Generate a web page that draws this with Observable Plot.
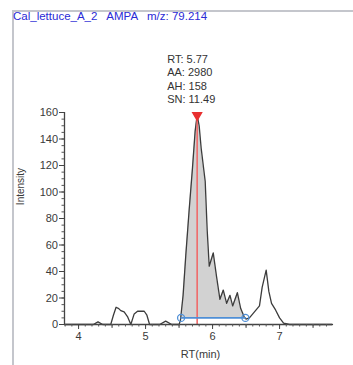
<!DOCTYPE html>
<html>
<head>
<meta charset="utf-8">
<script src="https://cdn.jsdelivr.net/npm/d3@7"></script>
<script src="https://cdn.jsdelivr.net/npm/@observablehq/plot@0.6"></script>
<style>
  html, body { margin: 0; padding: 0; background: #fff; }
  #wrap { position: relative; width: 353px; height: 365px; overflow: hidden; }
  #frame { position: absolute; left: 12px; top: 10px; width: 400px; height: 400px;
           border-top: 2px solid #c4c6cc; border-left: 2px solid #c4c6cc; }
  #title { position: absolute; left: 13px; top: 10px; font: 11.5px "Liberation Sans", Arial, sans-serif;
           color: #2a2ad6; white-space: pre; }
  #chart { position: absolute; left: 0; top: 0; }
</style>
</head>
<body>
<div id="wrap">
  <div id="chart"></div>
  <div id="frame"></div>
  <div id="title">Cal_lettuce_A_2   AMPA   m/z: 79.214</div>
</div>
<script>
// ---- data ----
const rt = [3.79, 4.22, 4.29, 4.36, 4.48, 4.52, 4.56, 4.6, 4.63, 4.68, 4.73, 4.78, 4.83, 4.88, 4.93, 4.98, 5.02, 5.06, 5.21, 5.3, 5.39, 5.5,
            5.52, 5.56, 5.6, 5.65, 5.7, 5.74, 5.77, 5.8, 5.83, 5.89, 5.92, 5.95, 6.01, 6.06, 6.11, 6.16, 6.21, 6.26, 6.3, 6.37, 6.42, 6.47, 6.5,
            6.55, 6.6, 6.65, 6.7, 6.74, 6.8, 6.84, 6.88, 6.94, 7.0, 7.06, 7.15, 7.79];
const intensity = [0, 0, 2, 0, 0, 7, 13, 12, 10.5, 9.5, 6, 0, 8, 10, 10, 10, 7, 0, 0, 2.5, 0, 0,
            3, 22, 52, 86, 118, 146, 158, 150, 133, 108, 71, 44, 54, 36, 19, 26, 16, 22, 14, 24, 12, 6, 4,
            5, 8, 11, 14, 28, 41, 25, 16, 11, 5, 1, 0, 0];
const peakRT = 5.77;
const peakHeight = 158;
const peakStart = 5.53;
const peakEnd = 6.49;
const baselineLevel = 5;
const annotation = ["RT: 5.77", "AA: 2980", "AH: 158", "SN: 11.49"];
const xMajorTicks = [4, 5, 6, 7];
const xMidTicks = [4.5, 5.5, 6.5, 7.5];
const xMinorTicks = d3.range(38, 78).map(d => d / 10);
const yMajorTicks = [0, 20, 40, 60, 80, 100, 120, 140, 160];
const yMinorTicks = d3.range(0, 161, 5);
const xLabel = "RT(min)";
const yLabel = "Intensity";

const trace = rt.map((t, i) => ({rt: t, v: intensity[i]}));
const peakPts = trace.filter(d => d.rt >= peakStart && d.rt <= peakEnd);
const fillPts = [{rt: peakStart, v: 3.5}, ...peakPts, {rt: peakEnd, v: 4.5}];
const basePts = [{rt: peakStart, v: baselineLevel}, {rt: peakEnd, v: baselineLevel}];

const font = "Liberation Sans, Arial, sans-serif";

const chart = Plot.plot({
  width: 353,
  height: 365,
  marginLeft: 64,
  marginRight: 21,
  marginTop: 112,
  marginBottom: 41,
  style: {fontFamily: font, fontSize: "11px", color: "#3a3a3a", background: "transparent"},
  x: {domain: [3.79, 7.79], label: null},
  y: {domain: [0, 160], label: null},
  marks: [
    Plot.areaY(fillPts, {x: "rt", y1: baselineLevel, y2: "v", fill: "#d2d2d2"}),
    Plot.line(trace, {x: "rt", y: "v", stroke: "#3c3c3c", strokeWidth: 1.3}),
    Plot.ruleX([peakRT], {y1: 0, y2: peakHeight, stroke: "#f06a6a", strokeWidth: 1.6}),
    Plot.line(basePts, {x: "rt", y: "v", stroke: "#4f8fd6", strokeWidth: 1.6}),
    Plot.dot(basePts, {x: "rt", y: "v", r: 3.5, stroke: "#4f8fd6", strokeWidth: 1.3, fill: "none"}),
    Plot.dot([peakRT], {x: d => d, y: () => peakHeight, symbol: "triangle", rotate: 180, r: 3.2, fill: "#e83030", stroke: "#e83030"}),
    Plot.text([annotation.join("\n")], {x: () => peakRT, y: () => peakHeight, dx: -30, dy: -12,
      textAnchor: "start", lineAnchor: "bottom", lineHeight: 1.22, fontSize: 11, fill: "#333"}),
    // axis lines
    Plot.ruleY([0], {stroke: "#444", strokeWidth: 1.3}),
    Plot.ruleX([3.79], {y1: 0, y2: 160, stroke: "#444", strokeWidth: 1.3}),
    // x ticks
    Plot.axisX({ticks: xMinorTicks, tickSize: 2.5, tickFormat: () => "", label: null, stroke: "#555"}),
    Plot.axisX({ticks: xMidTicks, tickSize: 4, tickFormat: () => "", label: null, stroke: "#555"}),
    Plot.axisX({ticks: xMajorTicks, tickSize: 5, tickPadding: 3, tickFormat: d3.format("d"), fontSize: 11, label: null, stroke: "#444", fill: "#3a3a3a"}),
    // y ticks
    Plot.axisY({ticks: yMinorTicks, tickSize: 2.5, tickFormat: () => "", label: null, stroke: "#555"}),
    Plot.axisY({ticks: yMajorTicks, tickSize: 5, tickPadding: 1.5, tickFormat: d3.format("d"), fontSize: 11, label: null, stroke: "#444", fill: "#3a3a3a"}),
    // axis labels
    Plot.text([xLabel], {frameAnchor: "bottom", dy: 30, lineAnchor: "middle", fontSize: 11, fill: "#3a3a3a", dx: 2}),
    Plot.text([yLabel], {frameAnchor: "left", rotate: -90, dx: -44, dy: -32, textAnchor: "middle", lineAnchor: "middle", fontSize: 10, fill: "#3a3a3a"})
  ]
});
document.getElementById("chart").appendChild(chart);
</script>
</body>
</html>
